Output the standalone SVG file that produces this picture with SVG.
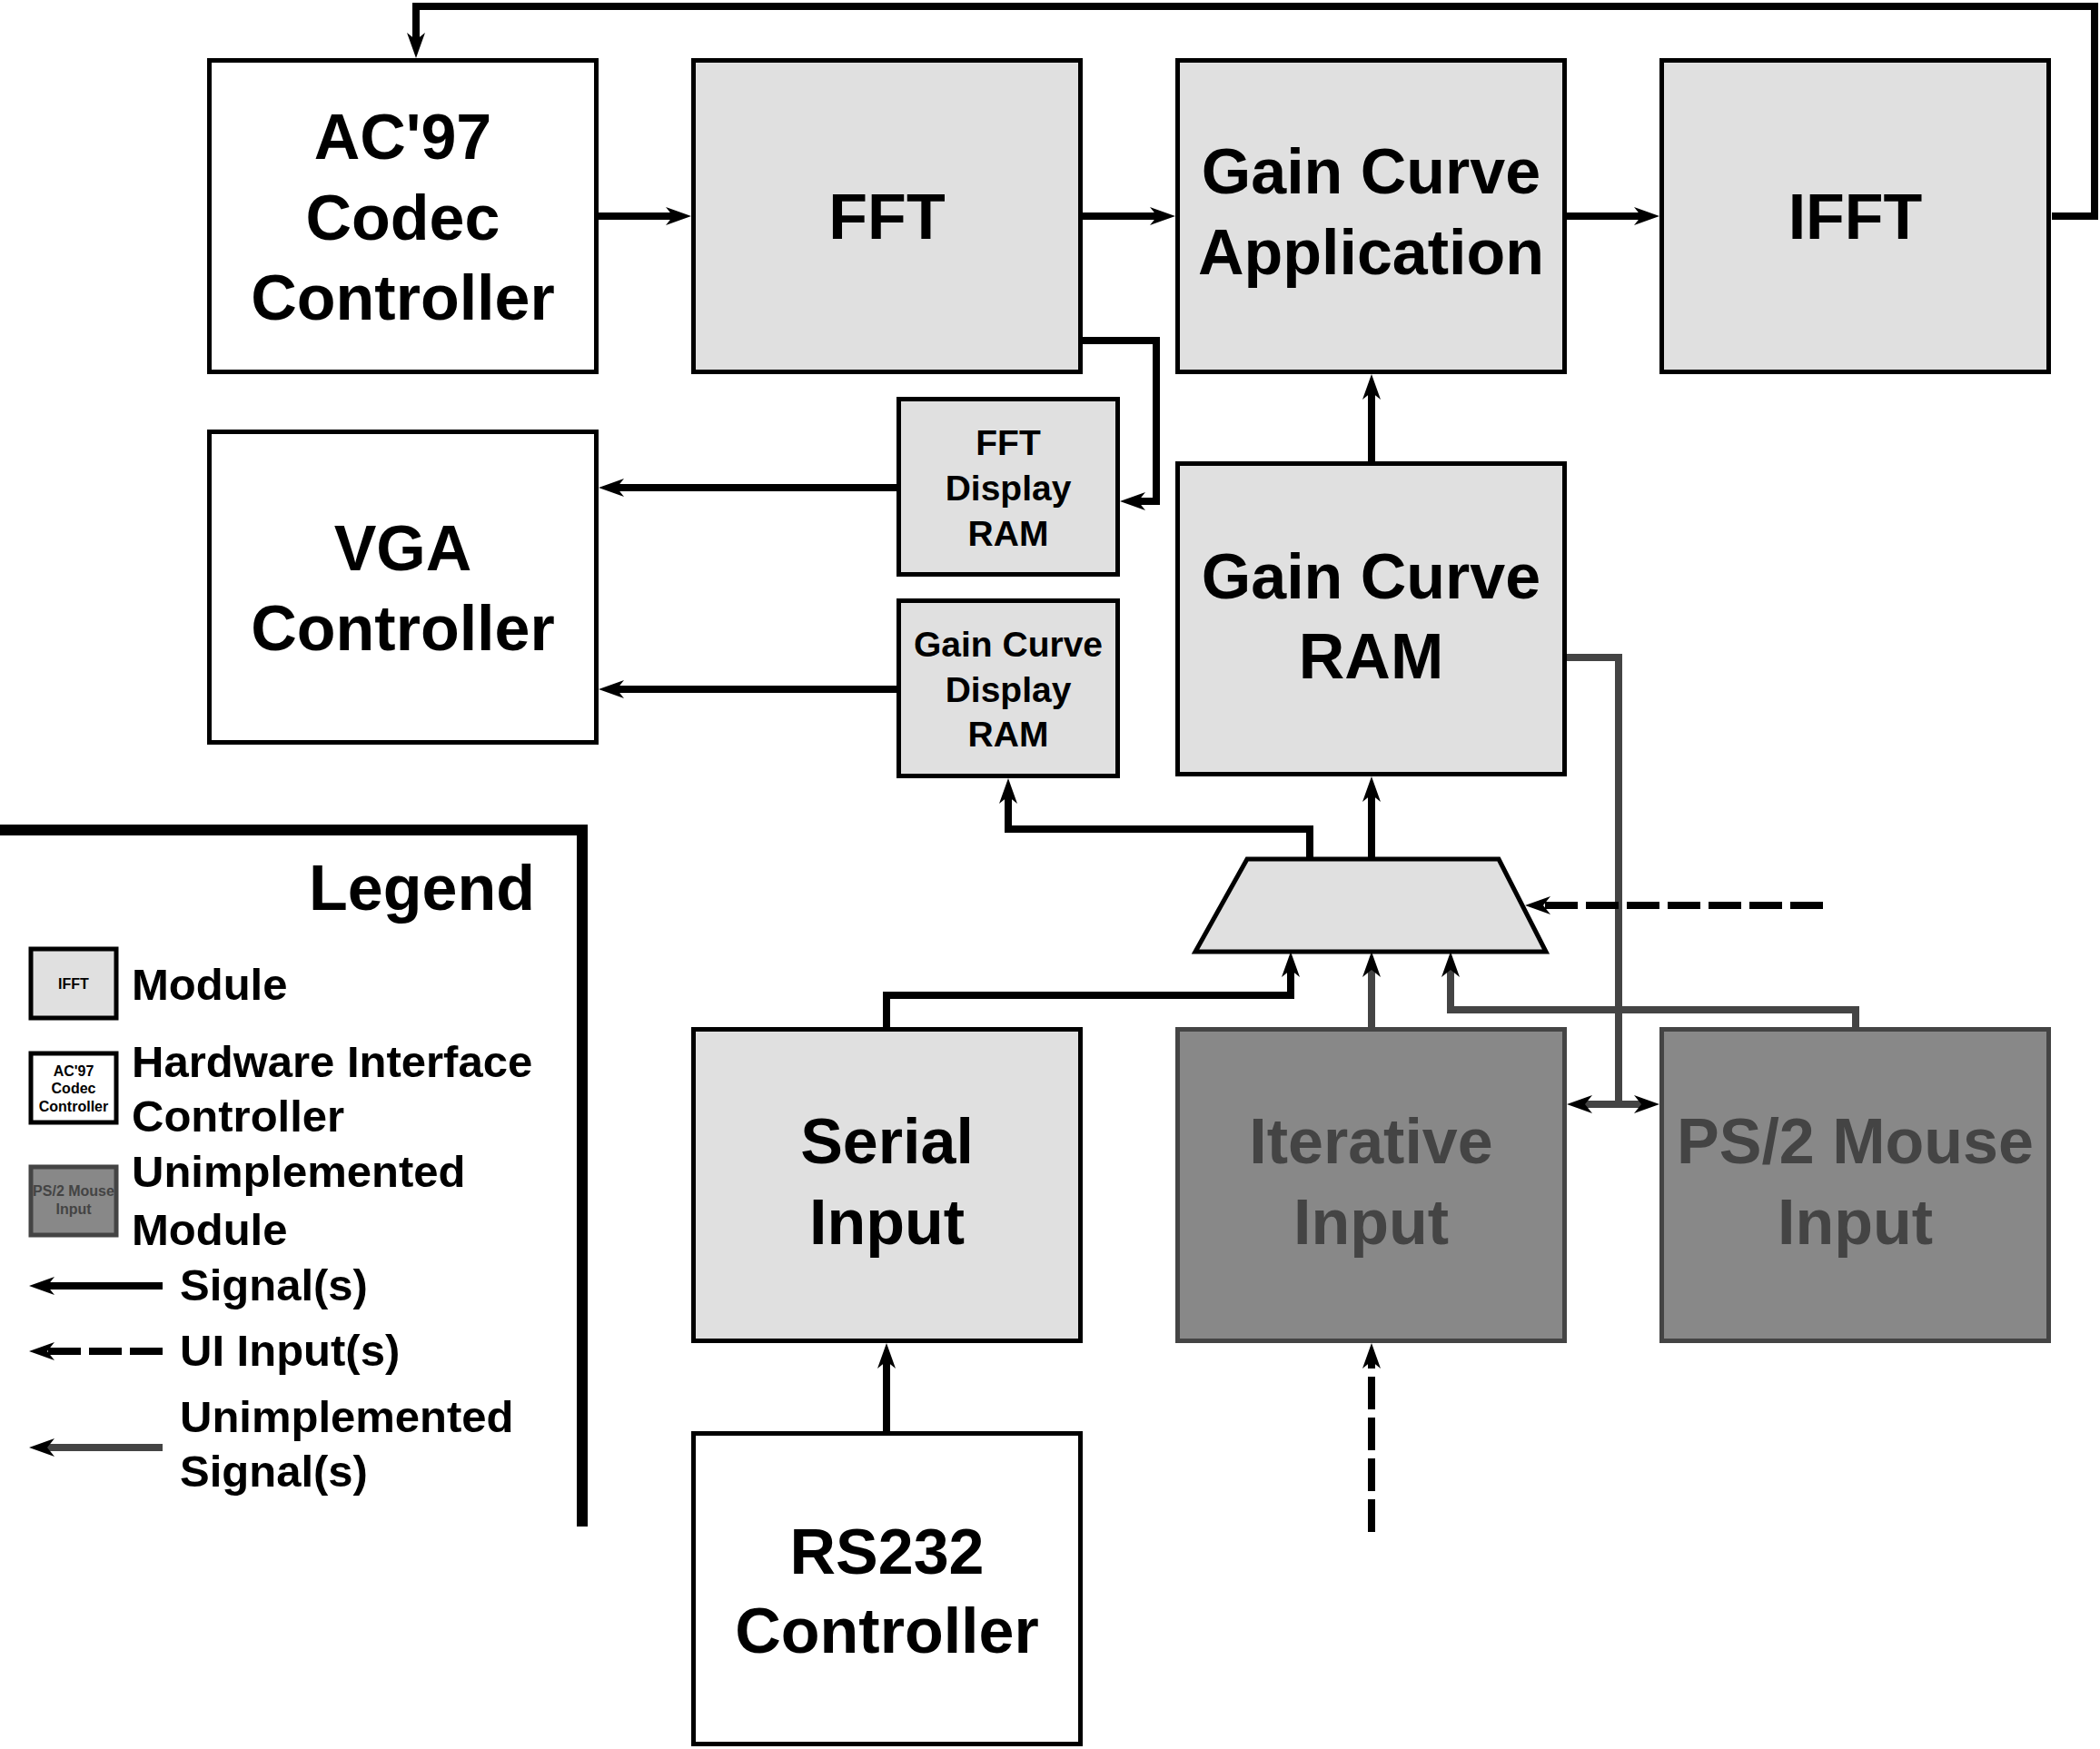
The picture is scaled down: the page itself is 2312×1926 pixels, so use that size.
<svg xmlns="http://www.w3.org/2000/svg" width="2312" height="1926" viewBox="0 0 2312 1926">
<defs>
<marker id="ah" markerUnits="userSpaceOnUse" viewBox="0 -10 28 20" refX="8" refY="0" markerWidth="28" markerHeight="20" orient="auto-start-reverse">
<path d="M0,-10 L28,0 L0,10 L8,0 Z" fill="#000"/>
</marker>
<style>
.box{stroke:#000;stroke-width:5;}
.mod{fill:#e0e0e0;}
.hw{fill:#fff;}
.un{fill:#888;stroke:#444;}
.t{font-family:"Liberation Sans",Arial,sans-serif;font-weight:bold;fill:#000;text-anchor:middle;}
.big{font-size:70px;}
.sm{font-size:39px;}
.ut{fill:#444;}
.lg{font-family:"Liberation Sans",Arial,sans-serif;font-weight:bold;fill:#000;font-size:49px;}
.c{fill:none;stroke:#000;stroke-width:8;}
.g{stroke:#444;}
.d{stroke-dasharray:36 9;}
.a{marker-end:url(#ah);}
</style>
</defs>
<rect width="2312" height="1926" fill="#fff"/>

<g id="connectors">
<path class="c a" d="M2259,238 H2306 V7 H458 V44"/>
<path class="c a" d="M659,238 H741"/>
<path class="c a" d="M1192,238 H1274"/>
<path class="c a" d="M1725,238 H1807"/>
<path class="c a" d="M1192,375 H1273 V552 H1253"/>
<path class="c a" d="M987,537 H679"/>
<path class="c a" d="M987,759 H679"/>
<path class="c a" d="M1510,508 V432"/>
<path class="c a" d="M1510,946 V875"/>
<path class="c a" d="M1442,946 V913 H1110 V877"/>
<path class="c a" d="M976,1131 V1096 H1421 V1068"/>
<path class="c g a" d="M1510,1131 V1068"/>
<path class="c g a" d="M2043,1131 V1112 H1597 V1068"/>
<path class="c g" d="M1725,724 H1782 V1216"/>
<path class="c g" d="M1745,1216 H1807" marker-start="url(#ah)" marker-end="url(#ah)"/>
<path class="c d a" d="M2007,997 H1699"/>
<path class="c d a" d="M1510,1687 V1499"/>
<path class="c a" d="M976,1576 V1499"/>
</g>

<g id="ac97">
<rect class="box hw" x="230.5" y="66.5" width="426" height="343"/>
<text class="t big" x="443.5" y="175">AC'97</text>
<text class="t big" x="443.5" y="264">Codec</text>
<text class="t big" x="443.5" y="352">Controller</text>
</g>
<g id="fft">
<rect class="box mod" x="763.5" y="66.5" width="426" height="343"/>
<text class="t big" x="976.5" y="263">FFT</text>
</g>
<g id="gca">
<rect class="box mod" x="1296.5" y="66.5" width="426" height="343"/>
<text class="t big" x="1509.5" y="213">Gain Curve</text>
<text class="t big" x="1509.5" y="302">Application</text>
</g>
<g id="ifft">
<rect class="box mod" x="1829.5" y="66.5" width="426" height="343"/>
<text class="t big" x="2042.5" y="263">IFFT</text>
</g>
<g id="vga">
<rect class="box hw" x="230.5" y="475.5" width="426" height="342"/>
<text class="t big" x="443.5" y="628">VGA</text>
<text class="t big" x="443.5" y="716">Controller</text>
</g>
<g id="fftram">
<rect class="box mod" x="989.5" y="439.5" width="241" height="193"/>
<text class="t sm" x="1110" y="501">FFT</text>
<text class="t sm" x="1110" y="551">Display</text>
<text class="t sm" x="1110" y="601">RAM</text>
</g>
<g id="gcdram">
<rect class="box mod" x="989.5" y="661.5" width="241" height="193"/>
<text class="t sm" x="1110" y="723">Gain Curve</text>
<text class="t sm" x="1110" y="773">Display</text>
<text class="t sm" x="1110" y="822">RAM</text>
</g>
<g id="gcram">
<rect class="box mod" x="1296.5" y="510.5" width="426" height="342"/>
<text class="t big" x="1509.5" y="659">Gain Curve</text>
<text class="t big" x="1509.5" y="747">RAM</text>
</g>
<g id="mux">
<polygon points="1373,946 1650,946 1702,1048 1316,1048" fill="#e0e0e0" stroke="#000" stroke-width="5"/>
</g>
<g id="serial">
<rect class="box mod" x="763.5" y="1133.5" width="426" height="343"/>
<text class="t big" x="976.5" y="1281">Serial</text>
<text class="t big" x="976.5" y="1370">Input</text>
</g>
<g id="iter">
<rect class="box un" x="1296.5" y="1133.5" width="426" height="343"/>
<text class="t big ut" x="1509.5" y="1281">Iterative</text>
<text class="t big ut" x="1509.5" y="1370">Input</text>
</g>
<g id="ps2">
<rect class="box un" x="1829.5" y="1133.5" width="426" height="343"/>
<text class="t big ut" x="2042.5" y="1281">PS/2 Mouse</text>
<text class="t big ut" x="2042.5" y="1370">Input</text>
</g>
<g id="rs232">
<rect class="box hw" x="763.5" y="1578.5" width="426" height="342"/>
<text class="t big" x="976.5" y="1733">RS232</text>
<text class="t big" x="976.5" y="1820">Controller</text>
</g>

<g id="legend">
<path d="M0,914 H641 V1681" fill="none" stroke="#000" stroke-width="12"/>
<text class="lg" x="589" y="1002" font-size="70" style="font-size:70px" text-anchor="end">Legend</text>
<rect class="box mod" x="34" y="1045" width="94" height="76"/>
<text class="t" x="81" y="1089" style="font-size:16px">IFFT</text>
<text class="lg" x="145" y="1101">Module</text>
<rect class="box hw" x="34" y="1160" width="94" height="76"/>
<text class="t" x="81" y="1185" style="font-size:16px">AC'97</text>
<text class="t" x="81" y="1204" style="font-size:16px">Codec</text>
<text class="t" x="81" y="1224" style="font-size:16px">Controller</text>
<text class="lg" x="145" y="1186">Hardware Interface</text>
<text class="lg" x="145" y="1246">Controller</text>
<rect class="box un" x="34" y="1285" width="94" height="75"/>
<text class="t ut" x="81" y="1317" style="font-size:16px">PS/2 Mouse</text>
<text class="t ut" x="81" y="1337" style="font-size:16px">Input</text>
<text class="lg" x="145" y="1307">Unimplemented</text>
<text class="lg" x="145" y="1371">Module</text>
<path class="c a" d="M179,1416 H52"/>
<text class="lg" x="198" y="1432">Signal(s)</text>
<path class="c d a" d="M179,1488 H52"/>
<text class="lg" x="198" y="1504">UI Input(s)</text>
<path class="c g a" d="M179,1594 H52"/>
<text class="lg" x="198" y="1577">Unimplemented</text>
<text class="lg" x="198" y="1637">Signal(s)</text>
</g>
</svg>
